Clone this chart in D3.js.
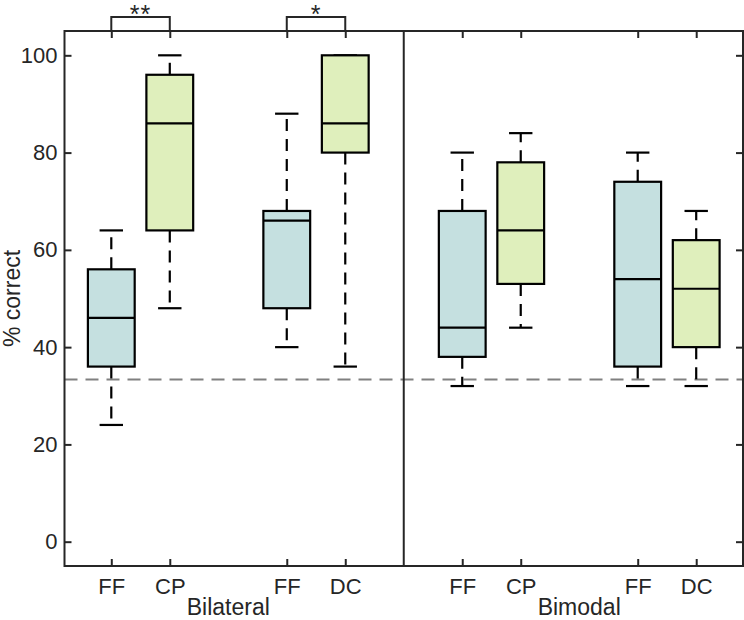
<!DOCTYPE html>
<html><head><meta charset="utf-8">
<script src="https://cdn.jsdelivr.net/npm/d3@7"></script>
<style>body{margin:0;background:#fff}svg{display:block}text{font-family:"Liberation Sans",Arial,sans-serif;fill:#262626}</style>
</head><body>
<script>
const groups = ["Bilateral", "Bimodal"];
const boxLabels = ["FF", "CP", "FF", "DC", "FF", "CP", "FF", "DC"];
const boxKind = ["FF", "CP", "FF", "CP", "FF", "CP", "FF", "CP"];
const positions = [1, 2, 4, 5, 7, 8, 10, 11];
const whiskerLow = [24, 48, 40, 36, 32, 44, 32, 32];
const q1 = [36, 64, 48, 80, 38, 53, 36, 40];
const median = [46, 86, 66, 86, 44, 64, 54, 52];
const q3 = [56, 96, 68, 100, 68, 78, 74, 62];
const whiskerHigh = [64, 100, 88, 100, 80, 84, 80, 68];
const yTicks = [0, 20, 40, 60, 80, 100];
const chanceLevel = 100 / 3;
const groupCenters = [3, 9];
const divider = 6;
const sigPairs = [[1, 2, "**"], [4, 5, "*"]];

const W = 744, H = 620;
const m = {l: 64.5, r: 743, t: 31, b: 566};
const svg = d3.select("body").append("svg").attr("width", W).attr("height", H);
const x = d3.scaleLinear().domain([0.2, 11.8]).range([m.l, m.r]);
const y = d3.scaleLinear().domain([-5, 105]).range([m.b, m.t]);
const fill = {FF: "#c5e0e0", CP: "#dfefbc"};
const axisCol = "#262626";
const tickFont = "22px";

// chance line
svg.append("line").attr("x1", x(0.2)).attr("x2", x(11.8)).attr("y1", y(chanceLevel)).attr("y2", y(chanceLevel))
  .attr("stroke", "#808080").attr("stroke-width", 2).attr("stroke-dasharray", "13,8");

// divider
svg.append("line").attr("x1", x(divider)).attr("x2", x(divider)).attr("y1", m.t).attr("y2", m.b)
  .attr("stroke", axisCol).attr("stroke-width", 2);

const bw = 0.8, cw = 0.4;
const g = svg.append("g");
positions.forEach((p, i) => {
  const bx = g.append("g");
  [[q3[i], whiskerHigh[i]], [q1[i], whiskerLow[i]]].forEach(([a, b]) => {
    bx.append("line").attr("x1", x(p)).attr("x2", x(p)).attr("y1", y(a)).attr("y2", y(b))
      .attr("stroke", "#000").attr("stroke-width", 2.2).attr("stroke-dasharray", "12,8");
    bx.append("line").attr("x1", x(p - cw / 2)).attr("x2", x(p + cw / 2)).attr("y1", y(b)).attr("y2", y(b))
      .attr("stroke", "#000").attr("stroke-width", 2.2);
  });
  bx.append("rect").attr("x", x(p - bw / 2)).attr("width", x(p + bw / 2) - x(p - bw / 2))
    .attr("y", y(q3[i])).attr("height", y(q1[i]) - y(q3[i]))
    .attr("fill", fill[boxKind[i]]).attr("stroke", "#000").attr("stroke-width", 2.2);
  bx.append("line").attr("x1", x(p - bw / 2)).attr("x2", x(p + bw / 2)).attr("y1", y(median[i])).attr("y2", y(median[i]))
    .attr("stroke", "#000").attr("stroke-width", 2.2);
});

// frame
svg.append("rect").attr("x", m.l).attr("y", m.t).attr("width", m.r - m.l).attr("height", m.b - m.t)
  .attr("fill", "none").attr("stroke", axisCol).attr("stroke-width", 2);

// y axis
const yAx = d3.axisLeft(y).tickValues(yTicks).tickSizeInner(-7).tickSizeOuter(0).tickPadding(7);
const ya = svg.append("g").attr("transform", `translate(${m.l},0)`).call(yAx);
ya.attr("font-size", null).attr("font-family", null);
ya.select(".domain").remove();
ya.selectAll("line").attr("stroke", axisCol).attr("stroke-width", 2);
ya.selectAll("text").style("font-size", tickFont).attr("fill", axisCol);
const yr = svg.append("g").attr("transform", `translate(${m.r},0)`).call(d3.axisRight(y).tickValues(yTicks).tickSizeInner(-7).tickSizeOuter(0).tickFormat(""));
yr.select(".domain").remove();
yr.selectAll("line").attr("stroke", axisCol).attr("stroke-width", 2);

// x axis
const xAx = d3.axisBottom(x).tickValues(positions).tickFormat((d, i) => boxLabels[i]).tickSizeInner(-7).tickSizeOuter(0).tickPadding(12);
const xa = svg.append("g").attr("transform", `translate(0,${m.b})`).call(xAx);
xa.attr("font-size", null).attr("font-family", null);
xa.select(".domain").remove();
xa.selectAll("line").attr("stroke", axisCol).attr("stroke-width", 2);
xa.selectAll("text").style("font-size", tickFont).attr("fill", axisCol);
const xt = svg.append("g").attr("transform", `translate(0,${m.t})`).call(d3.axisTop(x).tickValues(positions).tickSizeInner(-7).tickSizeOuter(0).tickFormat(""));
xt.select(".domain").remove();
xt.selectAll("line").attr("stroke", axisCol).attr("stroke-width", 2);

// group labels
groups.forEach((gname, i) => {
  svg.append("text").attr("x", x(groupCenters[i])).attr("y", 615).attr("text-anchor", "middle")
    .style("font-size", "23px").text(gname);
});

// y label
svg.append("text").attr("transform", `translate(20,${(m.t + m.b) / 2}) rotate(-90)`).attr("text-anchor", "middle")
  .style("font-size", "23px").text("% correct");

// significance brackets
sigPairs.forEach(([a, b, s]) => {
  svg.append("path").attr("d", `M${x(a)},${m.t}V17H${x(b)}V${m.t}`).attr("fill", "none")
    .attr("stroke", axisCol).attr("stroke-width", 2);
  svg.append("text").attr("x", (x(a) + x(b)) / 2).attr("y", 23).attr("text-anchor", "middle")
    .style("font-size", "25px").style("letter-spacing", "1px").text(s);
});
</script>
</body></html>
